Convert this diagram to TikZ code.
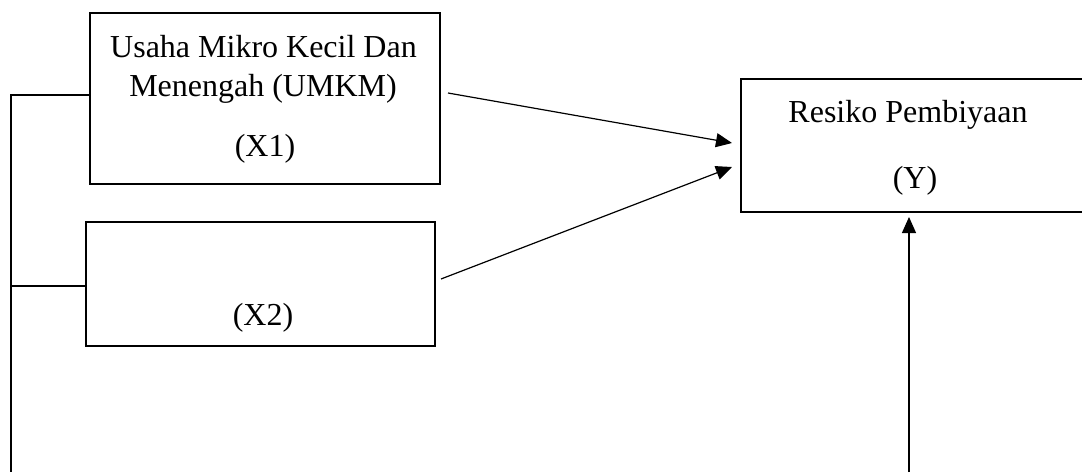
\documentclass[tikz,border=0pt]{standalone}
\usepackage{fontspec}
\setmainfont{Liberation Serif}
\usetikzlibrary{arrows.meta}
\begin{document}
\begin{tikzpicture}[x=1pt,y=-1pt,
  box/.style={draw, line width=2.5pt, rectangle, inner sep=0pt},
  txt/.style={inner sep=0pt, font=\fontsize{32}{38}\selectfont},
  conn/.style={line width=1.2pt},
  arr/.style={line width=1.2pt, -{Triangle[length=16pt,width=14pt]}}]
\clip (0,0) rectangle (1082,472);
\fill[white] (0,0) rectangle (1082,472);
% boxes
\node[box, minimum width=350pt, minimum height=171pt] (x1) at (265,98.5) {};
\node[box, minimum width=349pt, minimum height=124pt] (x2) at (260.5,284) {};
\node[box, minimum width=350pt, minimum height=133pt] (y) at (916,145.5) {};
% texts
\node[txt] (x1a) at (263.5,47) {Usaha Mikro Kecil Dan};
\node[txt] (x1b) at (263,89) {Menengah (UMKM)};
\node[txt] (x1c) at (265,149) {(X1)};
\node[txt] (x2a) at (263,318) {(X2)};
\node[txt] (ya) at (908,115) {Resiko Pembiyaan};
\node[txt] (yb) at (915,181) {(Y)};
% arrow ends
\coordinate (a1s) at (448,93);
\coordinate (a1e) at (732,143);
\coordinate (a2s) at (441,279);
\coordinate (a2e) at (732,167);
\coordinate (a3s) at (909,472);
\coordinate (a3e) at (909,217);
\draw[arr] (a1s) -- (a1e);
\draw[arr] (a2s) -- (a2e);
\draw[arr] (a3s) -- (a3e);
% left bracket
\coordinate (bt) at (11,95);
\coordinate (bm) at (11,286);
\coordinate (bb) at (11,472);
\draw[conn] (x1.west |- bt) -- (bt) -- (bb);
\draw[conn] (bm) -- (x2.west |- bm);
\end{tikzpicture}
\end{document}
